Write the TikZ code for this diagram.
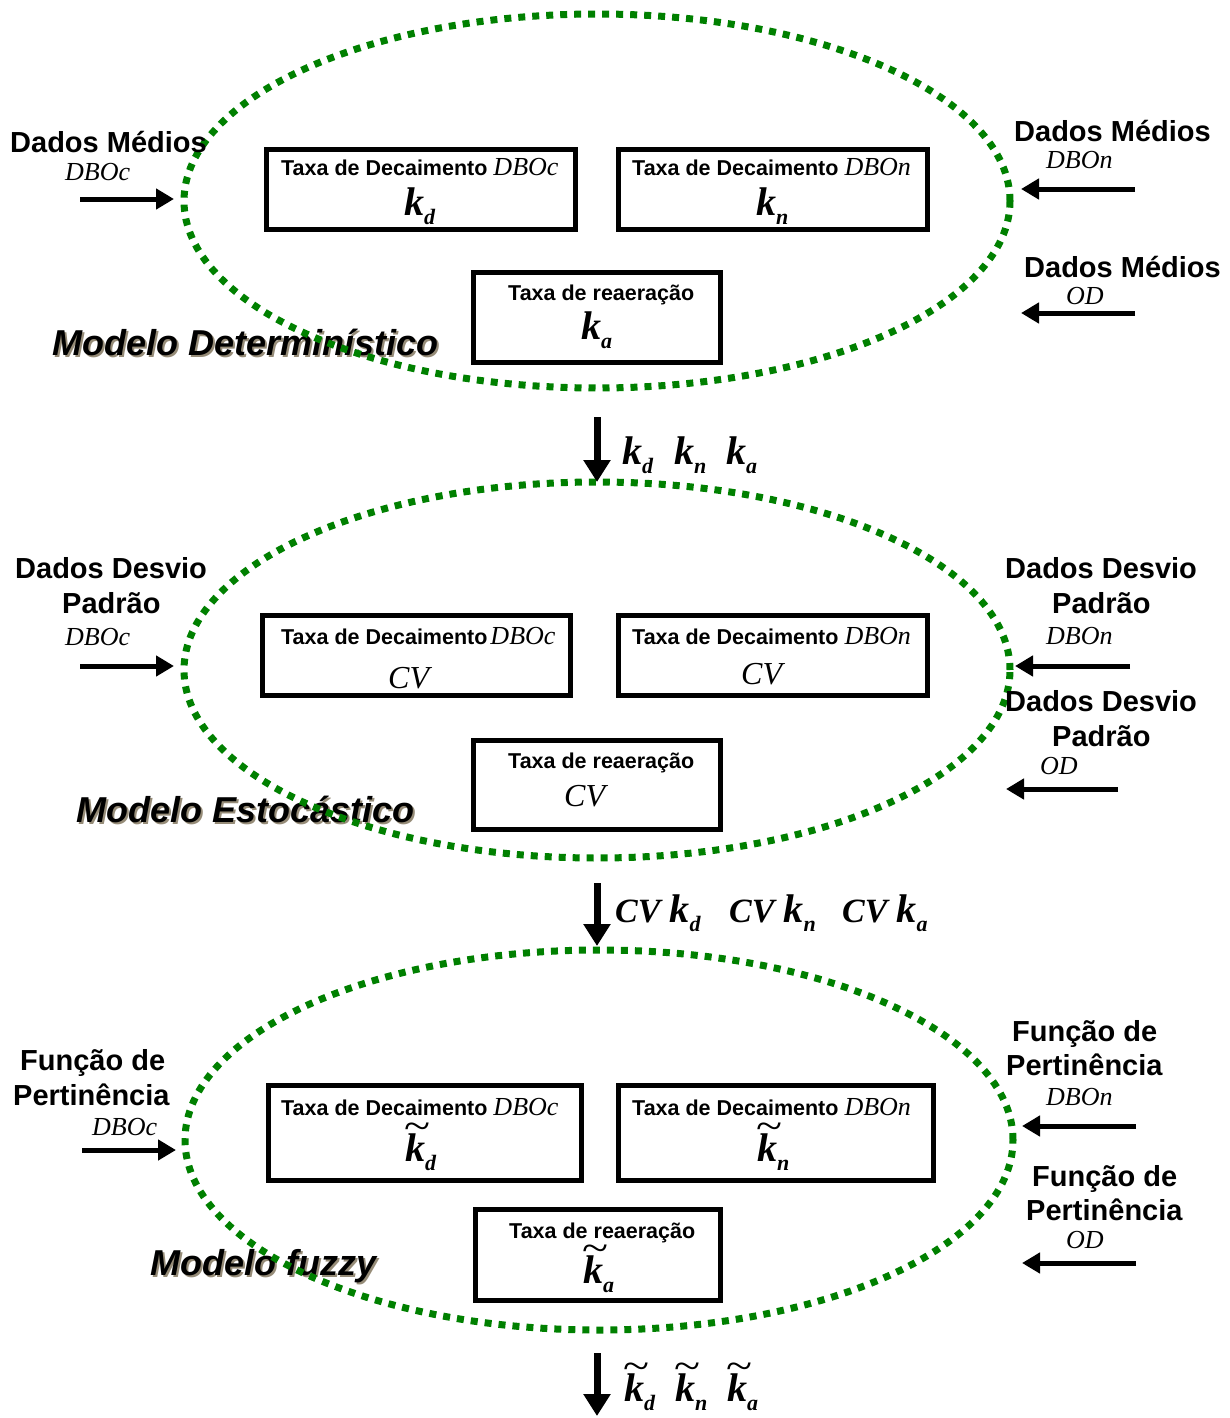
\documentclass[tikz,border=0pt]{standalone}
\usepackage{fontspec}
\usepackage{graphicx}
\setmainfont{Liberation Serif}
\setsansfont{Liberation Sans}
\usetikzlibrary{arrows.meta,shapes.geometric}

\definecolor{dotgreen}{RGB}{0,128,0}
\definecolor{shadowgray}{RGB}{150,140,120}

\newcommand\fsz[1]{\fontsize{#1}{#1}\selectfont}
% rate constant k with a subscript
\newcommand\kk[1]{{\fsz{40}\bfseries\itshape k}\raisebox{-9pt}{\fsz{22}\bfseries\itshape #1}}
% fuzzy rate constant: k with a wide tilde above
\newcommand\tkk[1]{\rlap{\raisebox{22pt}{\fsz{40}\kern-1pt\scalebox{1.2}[1]{\textasciitilde}}}\kk{#1}}
\newcommand\cvtxt{{\fsz{32}\itshape CV}}
\newcommand\cvbold{{\fsz{34}\bfseries\itshape CV}\kern9pt}
\newcommand\sub[1]{{\rmfamily\mdseries\itshape\fsz{26}#1}}

\tikzset{
  lbl/.style={font=\sffamily\bfseries\fsz{29}, inner sep=0, anchor=base west},
  var/.style={font=\itshape\fsz{26}, inner sep=0, anchor=base west},
  boxtxt/.style={font=\sffamily\bfseries\fsz{21.5}, inner sep=0, anchor=base west},
  sym/.style={inner sep=0, anchor=base west},
  model/.style={font=\sffamily\bfseries\itshape\fsz{36}, inner sep=0, anchor=base west},
  modelshadow/.style={model, text=shadowgray},
  ratebox/.style={draw, line width=5pt, inner sep=0, outer sep=0},
  ell/.style={ellipse, draw=dotgreen, line width=7pt, dash pattern=on 7pt off 7pt,
              inner sep=0, outer sep=0},
  arr/.style={line width=5pt, -{Triangle[length=18pt,width=20pt]}},
  darr/.style={line width=7pt, -{Triangle[length=22pt,width=26pt]}}
}

\begin{document}
\begin{tikzpicture}[x=1pt,y=-1pt]
\useasboundingbox (0,0) rectangle (1230,1418);

% ---------------- model titles (drawn under the dotted outlines)
\node[modelshadow] at (54,357) {Modelo Determinístico};
\node[model] (m1) at (52,355) {Modelo Determinístico};
\node[modelshadow] at (78,824) {Modelo Estocástico};
\node[model] (m2) at (76,822) {Modelo Estocástico};
\node[modelshadow] at (152,1277) {Modelo fuzzy};
\node[model] (m3) at (150,1275) {Modelo fuzzy};

% ---------------- dotted outlines of the three models
\node[ell, minimum width=826pt, minimum height=374pt] (e1) at (597,201) {};
\node[ell, minimum width=826pt, minimum height=376pt] (e2) at (597,670) {};
\node[ell, minimum width=828pt, minimum height=380pt] (e3) at (599,1140) {};

% ================= deterministic model
\node[ratebox, minimum width=309pt, minimum height=80pt] (b11) at (421,189.5) {};
\node[ratebox, minimum width=309pt, minimum height=80pt] (b12) at (773,189.5) {};
\node[ratebox, minimum width=247pt, minimum height=90pt] (b13) at (597,317.5) {};

\node[boxtxt] (t11) at (281,175) {Taxa de Decaimento \sub{DBOc}};
\node[sym] (k11) at (404,215) {\kk{d}};
\node[boxtxt] (t12) at (632,175) {Taxa de Decaimento \sub{DBOn}};
\node[sym] (k12) at (756,215) {\kk{n}};
\node[boxtxt] (t13) at (508,300) {Taxa de reaeração};
\node[sym] (k13) at (581,339) {\kk{a}};

\node[lbl] (i11) at (10,152) {Dados Médios};
\node[var] (v11) at (65,180) {DBOc};
\coordinate (a11s) at (80,199);  \coordinate (a11e) at (174,199);
\draw[arr] (a11s) -- (a11e);

\node[lbl] (i12) at (1014,142) {Dados Médios};
\node[var] (v12) at (1046,168) {DBOn};
\coordinate (a12s) at (1135,189); \coordinate (a12e) at (1021,189);
\draw[arr] (a12s) -- (a12e);

\node[lbl] (i13) at (1024,277) {Dados Médios};
\node[var] (v13) at (1066,304) {OD};
\coordinate (a13s) at (1135,313); \coordinate (a13e) at (1021,313);
\draw[arr] (a13s) -- (a13e);

% output of the deterministic model
\coordinate (d1s) at (597,417);
\draw[darr] (d1s) -- (e2.north);
\node[sym] (o11) at (622,464) {\kk{d}};
\node[sym] (o12) at (674,464) {\kk{n}};
\node[sym] (o13) at (726,464) {\kk{a}};

% ================= stochastic model
\node[ratebox, minimum width=308pt, minimum height=80pt] (b21) at (416.5,655.5) {};
\node[ratebox, minimum width=309pt, minimum height=80pt] (b22) at (773,655.5) {};
\node[ratebox, minimum width=247pt, minimum height=89pt] (b23) at (597,785) {};

\node[boxtxt] (t21) at (281,644) {Taxa de Decaimento\kern-3pt\ \sub{DBOc}};
\node[sym] (c21) at (388,688) {\cvtxt};
\node[boxtxt] (t22) at (632,644) {Taxa de Decaimento \sub{DBOn}};
\node[sym] (c22) at (741,684) {\cvtxt};
\node[boxtxt] (t23) at (508,768) {Taxa de reaeração};
\node[sym] (c23) at (564,806) {\cvtxt};

\node[lbl] (i21) at (15,578) {Dados Desvio};
\node[lbl] (i21b) at (62,613) {Padrão};
\node[var] (v21) at (65,645) {DBOc};
\coordinate (a21s) at (80,666);  \coordinate (a21e) at (174,666);
\draw[arr] (a21s) -- (a21e);

\node[lbl] (i22) at (1005,578) {Dados Desvio};
\node[lbl] (i22b) at (1052,613) {Padrão};
\node[var] (v22) at (1046,644) {DBOn};
\coordinate (a22s) at (1130,666); \coordinate (a22e) at (1015,666);
\draw[arr] (a22s) -- (a22e);

\node[lbl] (i23) at (1005,711) {Dados Desvio};
\node[lbl] (i23b) at (1052,746) {Padrão};
\node[var] (v23) at (1040,774) {OD};
\coordinate (a23s) at (1118,789); \coordinate (a23e) at (1006,789);
\draw[arr] (a23s) -- (a23e);

% output of the stochastic model
\coordinate (d2s) at (597,883);
\coordinate (d2e) at (597,946);
\draw[darr] (d2s) -- (d2e);
\node[sym] (o21) at (615,922) {\cvbold\kk{d}};
\node[sym] (o22) at (729,922) {\cvbold\kk{n}};
\node[sym] (o23) at (842,922) {\cvbold\kk{a}};

% ================= fuzzy model
\node[ratebox, minimum width=313pt, minimum height=95pt] (b31) at (425,1133) {};
\node[ratebox, minimum width=315pt, minimum height=95pt] (b32) at (776,1133) {};
\node[ratebox, minimum width=245pt, minimum height=91pt] (b33) at (598,1255) {};

\node[boxtxt] (t31) at (281,1115) {Taxa de Decaimento \sub{DBOc}};
\node[sym] (k31) at (405,1161) {\tkk{d}};
\node[boxtxt] (t32) at (632,1115) {Taxa de Decaimento \sub{DBOn}};
\node[sym] (k32) at (757,1161) {\tkk{n}};
\node[boxtxt] (t33) at (509,1238) {Taxa de reaeração};
\node[sym] (k33) at (583,1283) {\tkk{a}};

\node[lbl] (i31) at (20,1070) {Função de};
\node[lbl] (i31b) at (13,1105) {Pertinência};
\node[var] (v31) at (92,1135) {DBOc};
\coordinate (a31s) at (82,1150);  \coordinate (a31e) at (176,1150);
\draw[arr] (a31s) -- (a31e);

\node[lbl] (i32) at (1012,1041) {Função de};
\node[lbl] (i32b) at (1006,1075) {Pertinência};
\node[var] (v32) at (1046,1105) {DBOn};
\coordinate (a32s) at (1136,1126); \coordinate (a32e) at (1022,1126);
\draw[arr] (a32s) -- (a32e);

\node[lbl] (i33) at (1032,1186) {Função de};
\node[lbl] (i33b) at (1026,1220) {Pertinência};
\node[var] (v33) at (1066,1248) {OD};
\coordinate (a33s) at (1136,1263); \coordinate (a33e) at (1022,1263);
\draw[arr] (a33s) -- (a33e);

% output of the fuzzy model
\coordinate (d3s) at (597,1353);
\coordinate (d3e) at (597,1416);
\draw[darr] (d3s) -- (d3e);
\node[sym] (o31) at (624,1401) {\tkk{d}};
\node[sym] (o32) at (675,1401) {\tkk{n}};
\node[sym] (o33) at (727,1401) {\tkk{a}};
\end{tikzpicture}
\end{document}
